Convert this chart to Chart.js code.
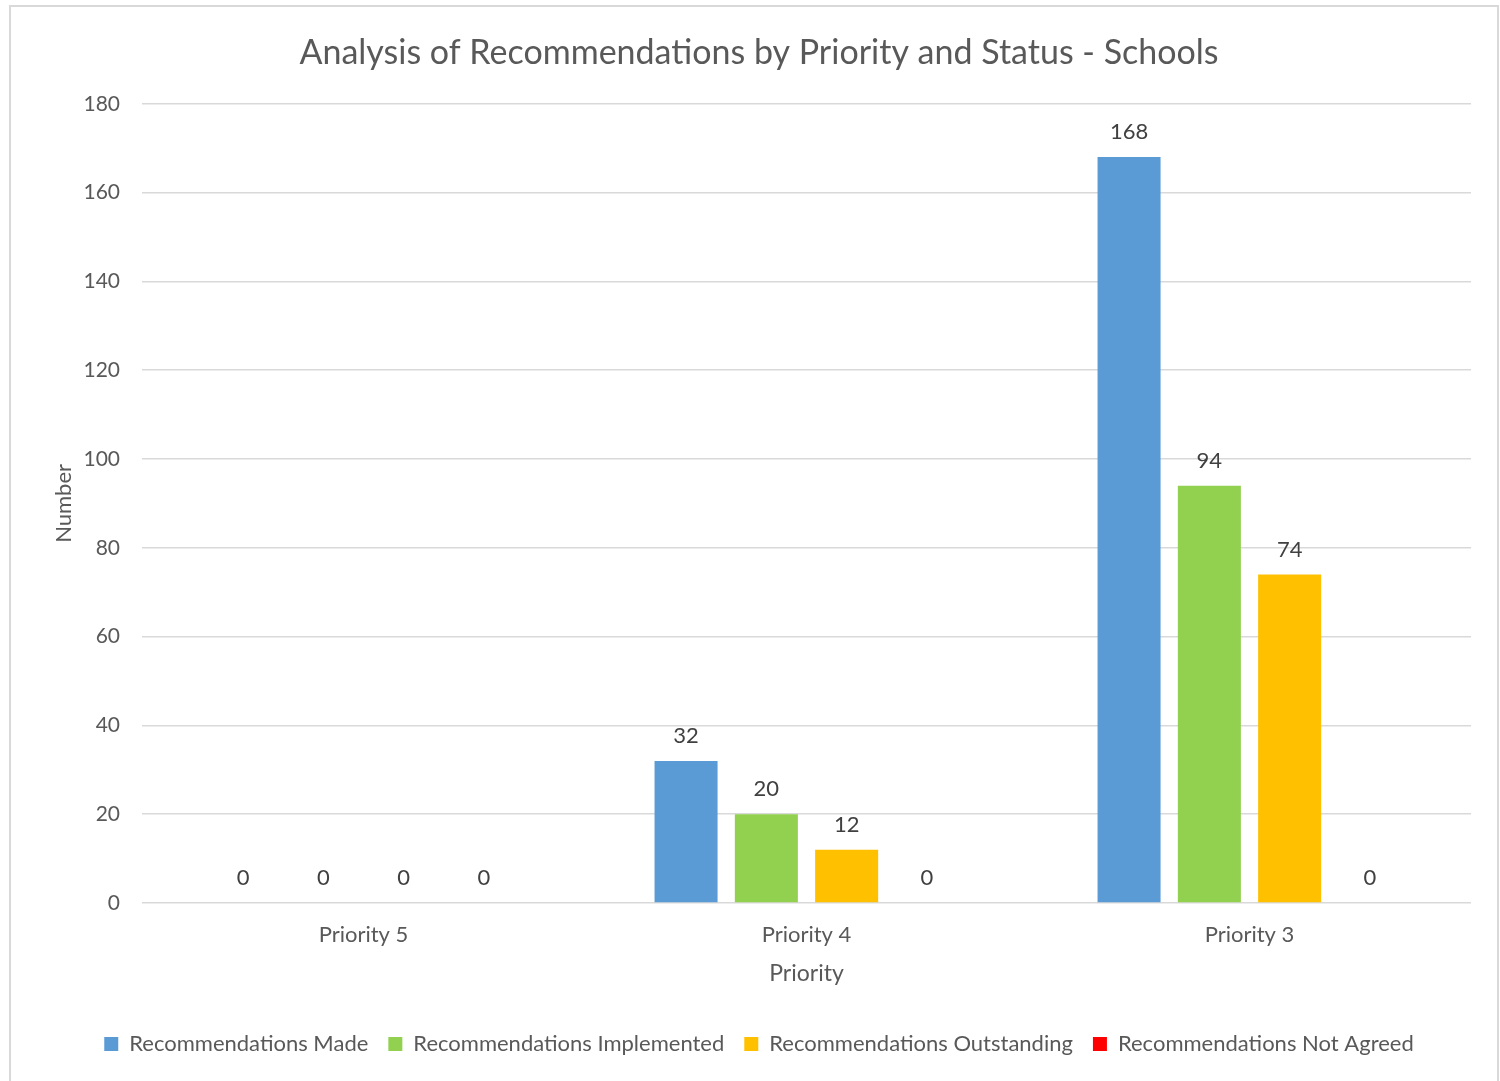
<!DOCTYPE html>
<html>
<head>
<meta charset="utf-8">
<script src="https://cdn.jsdelivr.net/npm/chart.js@4"></script>
<style>
  body { margin: 0; background: #fff; }
  #frame { position: absolute; left: 9px; top: 5px; width: 1490px; height: 1100px; border: 2px solid #d9d9d9; box-sizing: border-box; }
  #wrap { position: absolute; left: 0; top: 0; width: 1500px; height: 1081px; }
</style>
</head>
<body>
<div id="frame"></div>
<div id="wrap"><canvas id="myChart"></canvas></div>
<script>
// categories and series
var priorities = ['Priority 5', 'Priority 4', 'Priority 3'];
var made = [0, 32, 168];
var implemented = [0, 20, 94];
var outstanding = [0, 12, 74];
var notAgreed = [0, 0, 0];

var textColor = '#595959';
var fontName = 'Lato, "Open Sans", sans-serif';

// write the value over each bar
var barLabels = {
  id: 'barLabels',
  afterDatasetsDraw: function (chart) {
    var ctx = chart.ctx;
    ctx.save();
    ctx.fillStyle = '#404040';
    ctx.font = '22px ' + fontName;
    ctx.textAlign = 'center';
    ctx.textBaseline = 'bottom';
    chart.data.datasets.forEach(function (ds, i) {
      chart.getDatasetMeta(i).data.forEach(function (bar, j) {
        ctx.fillText(ds.data[j], bar.x, bar.y - 14);
      });
    });
    ctx.restore();
  }
};

var ctx = document.getElementById('myChart').getContext('2d');
var chart = new Chart(ctx, {
  type: 'bar',
  data: {
    labels: priorities,
    datasets: [
      { label: 'Recommendations Made', data: made, backgroundColor: '#5b9bd5' },
      { label: 'Recommendations Implemented', data: implemented, backgroundColor: '#92d050' },
      { label: 'Recommendations Outstanding', data: outstanding, backgroundColor: '#ffc000' },
      { label: 'Recommendations Not Agreed', data: notAgreed, backgroundColor: '#ff0000' }
    ]
  },
  options: {
    responsive: true,
    maintainAspectRatio: false,
    animation: false,
    layout: { padding: { left: 47, right: 29, top: 33, bottom: 16 } },
    datasets: { bar: { categoryPercentage: 0.725, barPercentage: 0.785 } },
    plugins: {
      title: {
        display: true,
        text: 'Analysis of Recommendations by Priority and Status - Schools',
        color: textColor,
        font: { family: fontName, size: 34, weight: 'normal' },
        padding: { top: 0, bottom: 30 }
      },
      legend: {
        position: 'bottom',
        labels: {
          color: textColor,
          font: { family: fontName, size: 22 },
          boxWidth: 14,
          boxHeight: 14,
          padding: 20
        }
      },
      tooltip: { enabled: false }
    },
    scales: {
      x: {
        grid: { display: false },
        border: { display: false },
        ticks: { color: textColor, font: { family: fontName, size: 22 }, padding: 11 },
        title: { display: true, text: 'Priority', color: textColor, font: { family: fontName, size: 23 }, padding: { top: 0, bottom: 26 } }
      },
      y: {
        min: 0,
        max: 180,
        afterFit: function (scale) { scale.width = 95; },
        grid: { color: '#d9d9d9', lineWidth: 1.5, drawTicks: false },
        border: { display: false },
        ticks: { stepSize: 20, color: textColor, font: { family: fontName, size: 21 }, padding: 22 },
        title: { display: true, text: 'Number', color: textColor, font: { family: fontName, size: 22 }, padding: { bottom: 12 } }
      }
    }
  },
  plugins: [barLabels]
});
</script>
</body>
</html>
